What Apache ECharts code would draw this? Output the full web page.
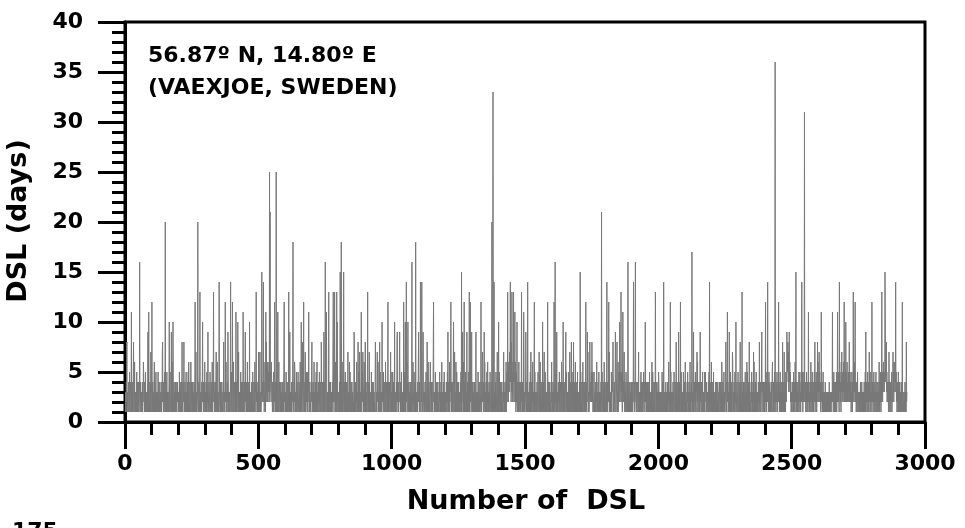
<!DOCTYPE html>
<html><head><meta charset="utf-8">
<script src="https://cdn.jsdelivr.net/npm/echarts@6/dist/echarts.min.js"></script>
<style>html,body{margin:0;padding:0;background:#fff}#c{width:965px;height:528px}</style>
</head><body><div id="c"></div>
<script>
// DSL values (days), one per dry spell, in order
const dsl_0001_0500 = [
1,3,2,1,4,2,8,1,3,2, 2,1,4,3,1,2,5,1,3,4, 3,1,2,11,1,3,1,2,4,1, 1,8,2,1,3,6,1,2,3,1, 2,3,1,5,2,1,4,3,1,2,
4,1,2,3,16,2,1,4,2,3, 1,2,3,1,4,1,3,2,6,5, 3,2,1,4,2,1,5,1,3,2, 1,3,2,1,4,9,3,1,11,2, 2,1,4,3,1,2,7,1,3,4,
12,1,2,4,1,3,1,2,4,6, 1,4,2,1,3,5,1,2,3,1, 2,3,1,5,2,1,4,3,1,2, 4,1,2,3,1,2,1,4,2,7, 8,2,3,1,4,1,3,2,5,1,
20,2,1,4,2,1,5,1,3,2, 1,3,2,1,4,10,3,1,5,2, 2,1,4,9,1,2,6,1,3,10, 3,1,2,4,1,3,1,2,4,1, 1,4,2,1,3,2,4,2,3,1,
2,3,1,5,2,1,4,3,1,2, 4,1,2,8,1,2,1,4,2,3, 8,2,3,1,4,1,3,2,5,1, 3,2,1,4,2,1,5,1,6,2, 2,1,4,3,1,2,6,1,3,4,
3,1,2,4,1,3,1,2,4,1, 1,4,12,1,3,7,1,2,3,1, 2,3,20,5,2,1,4,3,1,2, 13,1,2,3,1,2,1,4,2,5, 10,2,3,1,4,1,3,2,6,1,
3,2,1,4,2,1,5,1,3,2, 9,3,2,1,4,2,3,1,5,2, 2,1,4,3,1,2,6,1,3,4, 3,13,2,4,1,3,1,2,4,1, 1,7,2,1,3,6,1,2,3,1,
2,3,14,5,2,1,4,3,1,2, 4,1,2,3,1,2,1,4,2,8, 1,2,3,1,4,12,3,2,6,1, 3,2,1,4,2,9,5,1,3,2, 1,3,2,1,4,14,3,1,5,2,
2,1,12,3,1,2,6,1,3,4, 3,1,2,4,1,11,1,2,4,1, 1,4,10,1,3,7,1,2,3,1, 2,3,1,5,2,1,4,3,1,2, 4,1,11,3,1,2,1,4,2,3,
9,2,3,1,4,1,3,2,6,1, 3,2,1,4,2,1,10,1,3,2, 1,3,2,1,4,2,3,1,5,2, 2,1,4,3,1,2,6,1,3,4, 3,13,2,4,1,3,1,2,4,1
];
const dsl_0501_1000 = [
7,4,2,1,3,7,1,2,3,1, 2,3,15,5,2,4,4,3,14,2, 4,1,2,3,6,2,1,11,2,8, 3,4,2,6,3,2,5,4,3,6, 2,25,3,21,4,5,3,2,6,4,
3,2,1,4,2,1,5,1,3,2, 12,3,2,1,4,2,25,1,5,2, 2,1,11,3,1,2,6,1,3,4, 3,1,2,4,1,3,1,2,4,1, 1,4,2,1,3,7,12,2,3,1,
2,3,1,5,2,1,4,3,1,2, 4,1,2,13,1,2,1,9,2,3, 1,2,3,1,4,1,3,2,6,18, 3,2,1,4,2,6,5,1,3,2, 1,3,5,1,4,2,3,1,5,2,
2,1,4,3,1,2,6,1,3,4, 10,1,2,4,8,3,1,2,4,12, 1,4,2,1,3,7,1,2,3,5, 2,3,1,5,2,1,4,3,11,2, 4,1,2,3,1,2,1,4,2,6,
8,2,3,1,4,1,3,2,6,1, 3,2,1,4,2,1,5,1,3,6, 1,3,2,1,4,2,3,1,5,2, 2,1,4,3,1,8,6,1,3,4, 3,1,2,4,1,9,1,2,4,1,
16,4,2,1,11,7,1,2,3,1, 2,3,1,13,2,1,4,3,1,2, 4,1,2,3,1,2,1,4,2,8, 13,2,3,1,4,13,3,2,6,1, 3,2,1,13,2,10,5,1,3,2,
1,3,2,1,4,2,15,1,5,2, 18,1,4,3,1,2,6,1,3,15, 3,1,2,4,1,5,1,2,4,1, 1,4,2,1,3,7,1,2,3,1, 2,6,1,5,2,1,4,3,1,2,
4,1,2,3,1,2,1,4,9,8, 1,2,3,1,4,1,3,2,6,1, 3,2,1,8,2,1,5,1,3,7, 1,3,2,1,4,11,3,1,5,2, 2,7,4,3,1,2,6,1,3,4,
8,1,2,4,1,3,1,2,4,13, 1,4,2,1,3,7,1,2,3,1, 2,3,1,5,2,1,4,3,1,2, 4,1,2,3,1,2,1,4,8,5, 1,2,3,1,4,7,3,2,6,1,
3,2,1,4,8,1,5,1,3,2, 1,3,2,10,4,2,3,1,5,2, 2,1,4,3,1,2,6,1,3,4, 3,1,2,4,1,12,1,2,4,1, 1,4,2,1,3,7,1,2,3,1
];
const dsl_1001_1500 = [
5,3,1,5,2,1,4,3,1,2, 10,1,2,3,1,2,1,4,2,8, 9,2,3,1,4,1,3,2,6,9, 3,2,1,4,2,1,5,1,3,2, 1,3,2,1,12,2,3,1,5,2,
10,1,4,3,14,2,6,1,3,4, 10,1,2,4,1,3,1,2,4,1, 1,4,2,1,3,16,1,2,3,6, 2,3,1,5,2,1,4,3,1,18, 4,1,2,3,1,2,1,4,2,6,
9,2,3,1,4,1,3,14,6,1, 3,2,14,4,2,1,5,9,3,2, 1,3,2,1,4,2,3,1,5,2, 2,1,8,3,1,2,6,1,3,4, 3,1,2,4,6,3,1,2,4,1,
1,4,2,1,3,7,12,2,3,1, 2,3,1,5,2,1,4,3,1,2, 4,1,2,3,1,2,1,4,2,5, 1,2,3,1,4,1,3,6,2,1, 3,2,1,4,2,1,5,1,3,2,
1,3,2,1,4,2,3,1,5,2, 9,1,4,3,1,2,6,1,3,4, 3,12,2,4,1,3,1,2,4,1, 1,10,2,1,3,7,1,2,3,1, 6,3,1,5,2,1,4,3,1,2,
4,1,2,3,1,2,1,4,2,5, 1,15,3,1,4,9,3,2,6,1, 3,12,1,4,2,1,5,1,3,2, 1,9,2,1,4,2,3,1,5,2, 13,1,4,3,12,2,6,1,3,9,
3,1,2,4,1,3,1,2,4,1, 1,4,2,1,3,9,1,2,3,1, 2,3,1,5,2,1,4,3,1,2, 4,1,2,3,12,2,1,4,2,6, 7,2,3,1,4,1,9,2,6,1,
3,2,1,4,2,1,5,1,3,6, 1,3,2,1,4,2,3,1,5,2, 2,1,4,3,1,20,6,1,3,33, 3,1,2,14,1,3,1,2,4,1, 5,4,2,1,3,7,1,2,3,1,
10,3,1,5,2,1,4,3,1,2, 4,1,2,3,1,2,1,4,2,7, 1,2,3,1,4,1,3,2,6,1, 3,5,2,4,13,3,5,2,6,4, 3,7,4,5,14,4,5,2,8,3,
13,3,5,2,6,4,13,3,2,5, 4,11,2,6,3,1,5,2,4,10, 2,1,4,3,1,2,6,1,3,4, 3,1,2,4,1,3,13,2,4,1, 1,4,2,1,11,7,1,2,3,1
];
const dsl_1501_2000 = [
2,3,9,5,2,1,4,3,1,14, 4,1,2,3,1,2,1,4,2,5, 1,7,3,1,4,1,3,2,6,1, 3,2,1,4,12,1,5,1,3,2, 1,3,2,1,4,2,3,1,5,2,
2,1,7,3,1,2,6,1,3,4, 3,1,2,4,1,10,1,2,4,1, 1,7,2,1,3,5,1,2,3,1, 2,3,1,5,12,1,4,3,1,2, 4,1,2,3,1,2,1,4,2,6,
1,2,3,1,4,1,3,2,12,1, 3,2,16,4,2,1,5,1,9,2, 1,3,2,1,4,2,3,1,5,2, 2,1,4,3,1,2,6,1,3,4, 3,1,10,4,1,3,1,2,4,1,
1,4,9,1,3,5,1,2,3,1, 2,3,1,5,2,1,4,7,1,2, 4,1,2,8,1,2,1,4,2,5, 1,8,3,1,4,1,3,2,6,1, 3,2,1,4,2,1,5,1,3,2,
1,3,2,1,4,2,15,1,5,2, 2,1,4,3,1,2,6,1,3,4, 3,1,2,4,1,3,1,12,4,1, 1,4,2,9,3,7,1,2,3,1, 2,3,8,5,2,4,4,3,5,2,
8,3,2,5,1,2,1,4,5,3, 1,2,3,1,4,1,3,2,6,1, 3,2,1,4,2,1,5,1,3,2, 1,3,2,1,4,2,21,1,5,2, 2,1,4,3,1,2,6,1,3,4,
3,1,2,4,1,3,14,2,4,1, 1,4,2,12,3,7,1,2,3,1, 2,3,1,5,2,1,4,3,5,8, 4,1,2,3,4,2,1,4,9,5, 1,2,3,5,8,1,3,2,6,1,
3,5,2,4,10,3,2,5,4,13, 3,5,2,4,1,6,11,3,4,2, 5,7,3,1,4,2,3,1,5,2, 2,1,4,3,1,16,6,1,3,4, 3,1,2,4,1,3,1,2,4,1,
2,3,1,4,2,5,14,3,2,1, 4,2,5,16,3,2,1,4,3,1, 1,4,2,1,3,7,1,2,3,1, 2,3,1,4,5,1,4,3,1,2, 4,1,2,3,5,2,1,4,2,3,
10,2,3,1,4,1,3,2,4,1, 3,2,1,4,2,1,5,1,3,2, 1,3,2,1,4,6,3,1,5,2, 2,1,4,3,1,2,4,1,13,4, 3,1,2,4,1,3,1,2,4,1
];
const dsl_2001_2500 = [
5,4,2,1,3,2,1,2,3,1, 2,3,1,5,2,1,4,3,1,14, 4,1,2,3,1,2,1,4,2,3, 1,2,3,1,4,1,3,2,6,1, 3,2,1,4,12,1,5,1,3,2,
1,3,2,1,4,2,3,1,5,2, 2,1,4,3,1,2,8,1,3,4, 3,1,2,4,1,9,1,2,4,1, 1,4,12,1,3,5,1,2,3,1, 2,3,1,5,2,1,4,3,1,2,
6,1,2,3,1,2,1,4,2,5, 1,2,3,1,4,1,3,2,6,1, 3,2,1,4,2,17,5,1,3,2, 1,9,2,1,4,2,3,1,5,2, 2,1,4,3,7,2,6,1,3,4,
3,1,2,4,1,3,9,2,4,1, 1,4,2,1,3,5,1,2,3,1, 2,3,1,5,2,5,4,3,1,2, 4,1,2,3,1,2,1,4,2,5, 1,14,3,1,4,1,3,2,6,1,
3,2,1,4,2,1,5,1,3,2, 1,3,2,1,4,2,3,1,4,2, 2,1,4,3,1,2,3,1,3,4, 3,1,2,4,1,3,1,6,4,1, 1,4,2,1,3,5,1,2,3,1,
2,3,8,5,2,1,4,3,11,2, 4,1,2,3,1,9,1,4,2,5, 1,2,3,1,4,1,3,7,6,1, 3,2,1,4,2,1,5,1,3,2, 10,3,2,1,4,2,3,1,5,2,
2,1,4,3,1,2,8,1,3,4, 3,1,2,13,1,3,1,2,4,1, 1,4,2,1,3,5,1,2,3,1, 2,6,1,5,2,1,4,3,1,2, 8,1,2,3,1,2,1,4,2,5,
1,2,3,1,4,1,7,2,6,1, 3,2,1,4,2,1,5,1,3,2, 1,3,2,1,4,2,3,1,8,2, 2,1,4,3,1,2,6,9,3,4, 3,1,2,4,1,3,1,2,4,1,
3,12,2,5,3,1,4,2,3,14, 2,4,1,3,5,2,1,4,3,1, 2,3,1,4,2,1,5,6,3,1, 2,4,1,3,2,5,1,36,2,3, 1,4,2,3,5,1,2,3,4,2,
12,2,4,1,3,2,5,1,3,2, 4,1,3,2,1,8,2,4,1,3, 2,7,1,3,4,2,1,5,3,2, 4,9,9,6,5,8,4,7,3,5, 9,4,6,3,5,2,4,1,3,2
];
const dsl_2501_2932 = [
1,3,2,4,1,2,5,1,3,2, 4,1,6,2,3,15,1,4,2,3, 1,2,4,1,3,2,5,1,3,4, 5,2,3,1,4,2,3,14,2,5, 3,1,4,2,3,5,2,31,4,3,
2,4,1,3,2,5,1,3,2,4, 1,3,11,2,4,1,3,2,1,4, 2,6,1,3,4,2,5,1,3,2, 4,1,3,2,5,2,8,1,3,4, 2,5,3,1,4,3,8,2,6,3,
4,2,7,3,5,2,4,3,1,2, 11,3,2,4,1,3,2,5,1,3, 2,1,3,1,2,4,1,2,1,3, 1,2,1,3,1,2,1,3,1,2, 4,1,2,1,3,1,2,1,3,2,
2,3,11,2,4,1,3,5,2,4, 1,3,2,4,1,3,2,5,1,3, 2,11,3,4,2,5,3,1,14,3, 5,2,4,3,1,6,3,7,2,4, 3,5,2,4,6,3,12,2,5,3,
4,2,10,3,5,2,4,6,3,2, 4,3,5,2,4,8,3,2,5,3, 2,4,1,3,2,5,3,1,4,2, 13,3,5,2,4,6,3,12,2,4, 3,1,2,4,1,3,5,2,1,3,
2,1,3,2,1,3,2,4,1,2, 1,3,4,2,1,3,1,2,1,3, 2,4,1,3,2,5,1,9,2,3, 4,1,3,2,5,1,2,4,1,3, 7,2,4,1,3,2,5,1,3,2,
12,3,2,4,1,3,2,5,1,3, 2,4,1,3,2,5,1,3,2,4, 1,3,2,4,1,3,2,6,3,1, 4,2,5,3,1,4,2,13,3,5, 2,4,3,6,4,5,3,4,5,15,
15,5,4,6,8,3,5,2,4,3, 2,4,1,3,7,2,4,1,3,2, 4,1,3,2,5,1,3,2,4,7, 3,5,2,6,4,5,3,6,4,14, 3,5,2,4,1,3,2,4,1,5,
2,1,3,1,4,2,1,3,2,1, 4,2,1,3,12,2,1,3,1,2, 1,3,2,1,4,2,1,3,1,8, 2,3
];
const xTickValues = [0, 500, 1000, 1500, 2000, 2500, 3000];
const yTickValues = [0, 5, 10, 15, 20, 25, 30, 35, 40];
const titleLines = ['56.87\u00BA N, 14.80\u00BA E', '(VAEXJOE, SWEDEN)'];
const xTitle = 'Number of  DSL';
const yTitle = 'DSL (days)';
const pageMark = '175';

const values = [].concat(dsl_0001_0500, dsl_0501_1000, dsl_1001_1500, dsl_1501_2000, dsl_2001_2500, dsl_2501_2932);
const seriesData = values.map((v, i) => [i + 1, v]);

const FAM = '"DejaVu Sans", "Liberation Sans", Arial, sans-serif';
const FONT = 'bold 22px ' + FAM;
const FONT_T = 'bold 27px ' + FAM;
const chart = echarts.init(document.getElementById('c'), null, {renderer: 'canvas'});
const axisCommon = {
  axisLine: {show: true, onZero: false, lineStyle: {color: '#000', width: 3}},
  axisTick: {show: true, inside: false, length: 27, lineStyle: {color: '#000', width: 3}},
  minorTick: {show: true, splitNumber: 5, length: 13, lineStyle: {color: '#000', width: 3}},
  splitLine: {show: false}, minorSplitLine: {show: false},
};
const baseGraphics = [
  {type: 'text', x: 148, y: 45, style: {text: titleLines[0], font: FONT, fill: '#000', textAlign: 'left', textVerticalAlign: 'top'}},
  {type: 'text', x: 148, y: 77, style: {text: titleLines[1], font: FONT, fill: '#000', textAlign: 'left', textVerticalAlign: 'top'}},
  {type: 'text', x: 526, y: 502, style: {text: xTitle, font: FONT_T, fill: '#000', textAlign: 'center', textVerticalAlign: 'middle'}},
  {type: 'text', x: 19, y: 221, rotation: Math.PI / 2, style: {text: yTitle, font: FONT_T, fill: '#000', textAlign: 'center', textVerticalAlign: 'middle'}},
  {type: 'text', x: 12, y: 521, style: {text: pageMark, font: FONT, fill: '#000', textAlign: 'left', textVerticalAlign: 'top'}}
];
chart.setOption({
  animation: false,
  backgroundColor: '#fff',
  grid: {left: 125, right: 40, top: 22, bottom: 106, show: true, borderColor: '#000', borderWidth: 3, backgroundColor: 'transparent'},
  xAxis: Object.assign({
    type: 'value', min: xTickValues[0], max: xTickValues[xTickValues.length - 1], interval: 500,
    axisLabel: {margin: 31, color: '#000', fontFamily: FAM, fontWeight: 'bold', fontSize: 22, formatter: v => String(v)}
  }, axisCommon),
  yAxis: Object.assign({
    type: 'value', min: yTickValues[0], max: yTickValues[yTickValues.length - 1], interval: 5,
    axisLabel: {show: false}
  }, axisCommon),
  series: [{
    type: 'line', data: seriesData, showSymbol: false, symbol: 'none', silent: true,
    lineStyle: {color: '#787878', width: 1}, clip: true
  }],
  graphic: baseGraphics
});
// y tick labels placed with the axis scale (value -> pixel via the library)
const yLabelGraphics = yTickValues.map(v => ({
  type: 'text', x: 83, y: chart.convertToPixel({yAxisIndex: 0}, v),
  style: {text: String(v), font: FONT, fill: '#000', textAlign: 'right', textVerticalAlign: 'middle'}
}));
chart.setOption({graphic: baseGraphics.concat(yLabelGraphics)});
</script></body></html>
